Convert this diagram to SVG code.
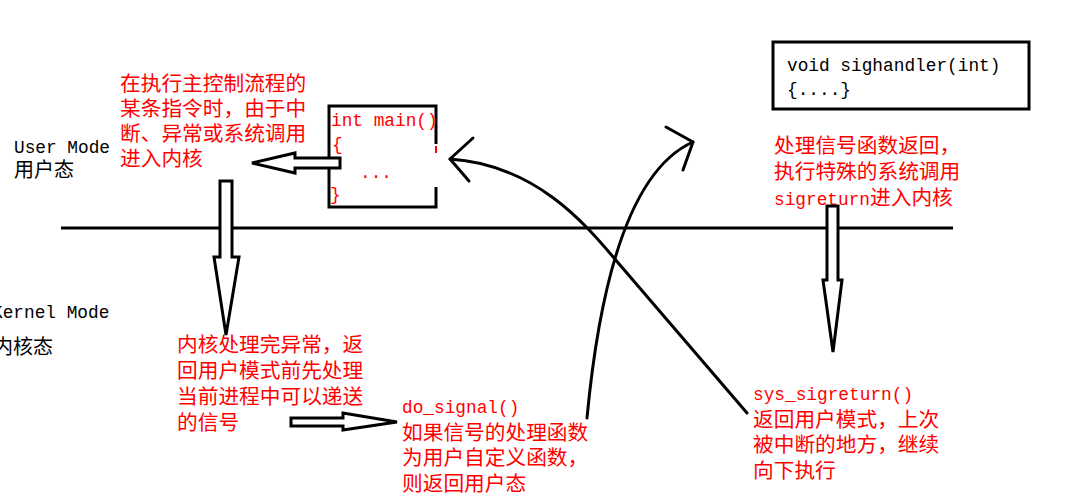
<svg xmlns="http://www.w3.org/2000/svg" width="1074" height="499" viewBox="0 0 1074 499">
<style>
.cn{font-family:"Noto Sans CJK SC",sans-serif;font-size:20.7px}
.cnb{font-family:"Noto Sans CJK SC",sans-serif;font-size:20px;fill:#000}
.mono{font-family:"Liberation Mono",monospace;font-size:17.8px}
.red{fill:#f00}
.blk{fill:#000}
.block{fill:#fff;stroke:#000;stroke-width:3;stroke-linejoin:miter}
.curve{fill:none;stroke:#000;stroke-width:3;stroke-linecap:round;stroke-linejoin:round}
.frame{fill:none;stroke:#000;stroke-width:3}
</style>
<rect width="1074" height="499" fill="#fff"/>

<g id="mode-divider">
<line x1="61" y1="228" x2="953" y2="228" stroke="#000" stroke-width="3"/>
</g>

<g id="user-mode-label">
<text class="mono blk" x="14" y="153">User Mode</text>
<text class="cnb" x="14" y="177">用户态</text>
</g>

<g id="kernel-mode-label">
<text class="mono blk" x="-8" y="318">Kernel Mode</text>
<text class="cnb" x="-7" y="354">内核态</text>
</g>

<g id="main-box">
<path class="frame" d="M436,144 V106 H329 V207 H436 V187"/>
<line x1="436" y1="146" x2="436" y2="153" stroke="#f00" stroke-width="2"/>
<text class="mono red" x="331" y="126">int main()</text>
<text class="mono red" x="332" y="150">{</text>
<text class="mono red" x="360" y="178">...</text>
<text class="mono red" x="330" y="200">}</text>
</g>

<g id="sighandler-box">
<rect class="frame" x="773" y="42" width="256" height="67"/>
<text class="mono blk" x="787" y="71">void sighandler(int)</text>
<text class="mono blk" x="787" y="95">{....}</text>
</g>

<g id="note-interrupt">
<text class="cn red" x="120" y="91">在执行主控制流程的</text>
<text class="cn red" x="120" y="116">某条指令时，由于中</text>
<text class="cn red" x="120" y="141">断、异常或系统调用</text>
<text class="cn red" x="120" y="166">进入内核</text>
</g>

<g id="note-kernel">
<text class="cn red" x="177" y="352">内核处理完异常，返</text>
<text class="cn red" x="177" y="378">回用户模式前先处理</text>
<text class="cn red" x="177" y="404">当前进程中可以递送</text>
<text class="cn red" x="177" y="430">的信号</text>
</g>

<g id="note-do-signal">
<text class="mono red" x="402" y="413">do_signal()</text>
<text class="cn red" x="402" y="440">如果信号的处理函数</text>
<text class="cn red" x="402" y="465">为用户自定义函数，</text>
<text class="cn red" x="402" y="491">则返回用户态</text>
</g>

<g id="note-sigreturn">
<text class="cn red" x="774" y="153">处理信号函数返回，</text>
<text class="cn red" x="774" y="179">执行特殊的系统调用</text>
<text class="red" x="774" y="205"><tspan class="mono">sigreturn</tspan><tspan class="cn">进入内核</tspan></text>
</g>

<g id="note-sys-sigreturn">
<text class="mono red" x="753" y="400">sys_sigreturn()</text>
<text class="cn red" x="753" y="427">返回用户模式，上次</text>
<text class="cn red" x="753" y="452">被中断的地方，继续</text>
<text class="cn red" x="753" y="478">向下执行</text>
</g>

<g id="connectors">
<polygon class="block" points="252,163 295,153 295,158 340,158 340,168 295,168 295,173"/>
<polygon class="block" points="220,181 232,181 232,257 239,257 226,335 214,257 220,257"/>
<polygon class="block" points="291,418 343,418 343,413 397,422 343,430 343,426 291,426"/>
<polygon class="block" points="827,206 838,206 838,280 842,280 833,352 823,280 827,280"/>
<path class="curve" d="M587,418 C600,280 630,170 693,142"/>
<path class="curve" d="M666,127 L693,142 L683,170"/>
<path class="curve" d="M747,413 L620,265 C590,230 540,165 450,159"/>
<path class="curve" d="M473,138 L450,159 L469,181"/>
</g>
</svg>
